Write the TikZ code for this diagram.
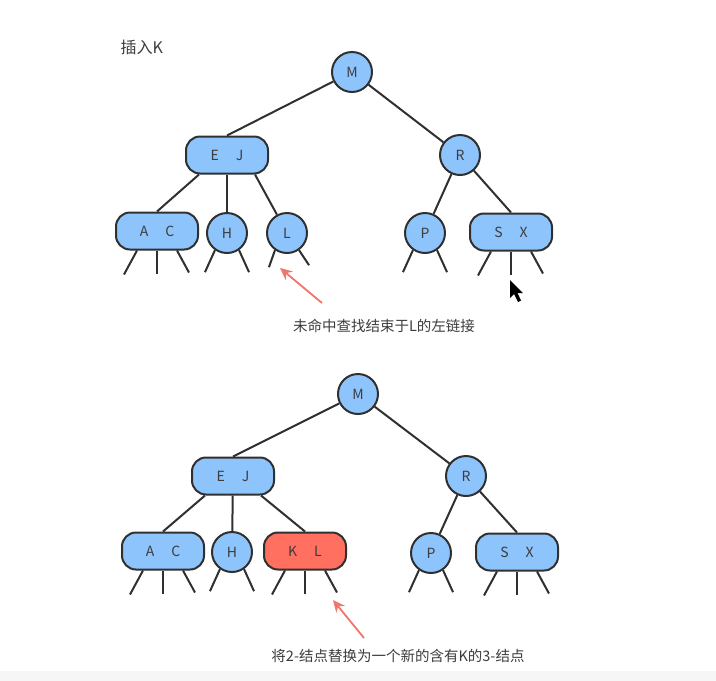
\documentclass[tikz,border=0pt]{standalone}
\usepackage{fontspec}
\setmainfont{Noto Sans CJK SC}
\usetikzlibrary{arrows.meta, positioning, calc}
\definecolor{nodeblue}{RGB}{142, 196, 252}
\definecolor{nodered}{RGB}{255, 112, 96}
\definecolor{edgegray}{RGB}{48, 48, 48}
\definecolor{textgray}{RGB}{60, 60, 60}
\definecolor{arrowred}{RGB}{240, 118, 108}
\definecolor{stripgray}{RGB}{246, 246, 246}

\tikzset{
  twonode/.style={circle, draw=edgegray, line width=2pt, fill=nodeblue, minimum size=40pt, inner sep=0pt, text=textgray, font=\fontsize{14}{16}\selectfont},
  threenode/.style={rectangle, rounded corners=14pt, draw=edgegray, line width=2pt, fill=nodeblue, minimum width=82pt, minimum height=37pt, inner sep=0pt, text=textgray, font=\fontsize{14}{16}\selectfont},
  link/.style={draw=edgegray, line width=2pt},
  hint/.style={draw=arrowred, line width=1.8pt, -{Stealth[length=12pt, width=11pt]}},
  caption/.style={text=textgray, font=\fontsize{14.5}{17}\selectfont}
}

\begin{document}
\begin{tikzpicture}[x=1pt, y=-1pt]
  \useasboundingbox (0,0) rectangle (716,681);
  \fill[stripgray] (0,671) rectangle (716,681);

  % insert K: search
  \node[caption, anchor=west, font=\fontsize{16}{18}\selectfont] (title) at (117,47) {插入K};
  \node[twonode] (m1) at (352,72) {M};
  \node[threenode] (ej1) at (227,155) {E\hspace{17pt}J};
  \node[twonode] (r1) at (460,155) {R};
  \node[threenode] (ac1) at (157,231) {A\hspace{17pt}C};
  \node[twonode] (h1) at (227,233) {H};
  \node[twonode] (l1) at (287,233) {L};
  \node[twonode] (p1) at (425,233) {P};
  \node[threenode] (sx1) at (511,232) {S\hspace{17pt}X};

  \draw[link] (m1) -- (ej1.north);
  \draw[link] (m1) -- (r1);
  \draw[link] ($(ej1.south)+(-28,0)$) -- (ac1.north);
  \draw[link] (ej1) -- (h1);
  \draw[link] ($(ej1.south)+(28,0)$) -- (l1);
  \draw[link] (r1) -- (p1);
  \draw[link] (r1) -- (sx1.north);

  \node[caption] (note1) at (384,326) {未命中查找结束于L的左链接};
  \coordinate (tail1) at (322,303);
  \coordinate (tip1) at (280,268);
  \draw[hint] (tail1) -- (tip1);

  % mouse pointer
  \fill[black] (510,280) -- (510,298) -- (514,294) -- (518,302) -- (521,300.5) -- (517.5,293) -- (523,293) -- cycle;

  % insert K: result
  \node[twonode] (m2) at (358,394) {M};
  \node[threenode] (ej2) at (233,476) {E\hspace{17pt}J};
  \node[twonode] (r2) at (466,476) {R};
  \node[threenode] (ac2) at (163,551) {A\hspace{17pt}C};
  \node[twonode] (h2) at (232,552) {H};
  \node[threenode, fill=nodered] (kl2) at (305,551) {K\hspace{17pt}L};
  \node[twonode] (p2) at (431,553) {P};
  \node[threenode] (sx2) at (517,552) {S\hspace{17pt}X};

  \draw[link] (m2) -- (ej2.north);
  \draw[link] (m2) -- (r2);
  \draw[link] ($(ej2.south)+(-28,0)$) -- (ac2.north);
  \draw[link] (ej2) -- (h2);
  \draw[link] ($(ej2.south)+(28,0)$) -- (kl2.north);
  \draw[link] (r2) -- (p2);
  \draw[link] (r2) -- (sx2.north);

  \node[caption] (note2) at (398,656) {将2-结点替换为一个新的含有K的3-结点};
  \coordinate (tail2) at (364,638);
  \coordinate (tip2) at (333,600);
  \draw[hint] (tail2) -- (tip2);

  % null links
  \foreach \n in {h1,p1,h2,p2} {
    \draw[link] (\n.-125) -- ++(-10,22);
    \draw[link] (\n.-55) -- ++(10,22);
  }
  \draw[link] (l1.-125) -- ++(-6,17);
  \draw[link] (l1.-55) -- ++(10,15);
  \foreach \n in {ac1,sx1,ac2,kl2,sx2} {
    \draw[link] ($(\n.south)+(-20,0)$) -- ++(-13,24);
    \draw[link] (\n.south) -- ++(0,23);
    \draw[link] ($(\n.south)+(20,0)$) -- ++(12,22);
  }
\end{tikzpicture}
\end{document}
